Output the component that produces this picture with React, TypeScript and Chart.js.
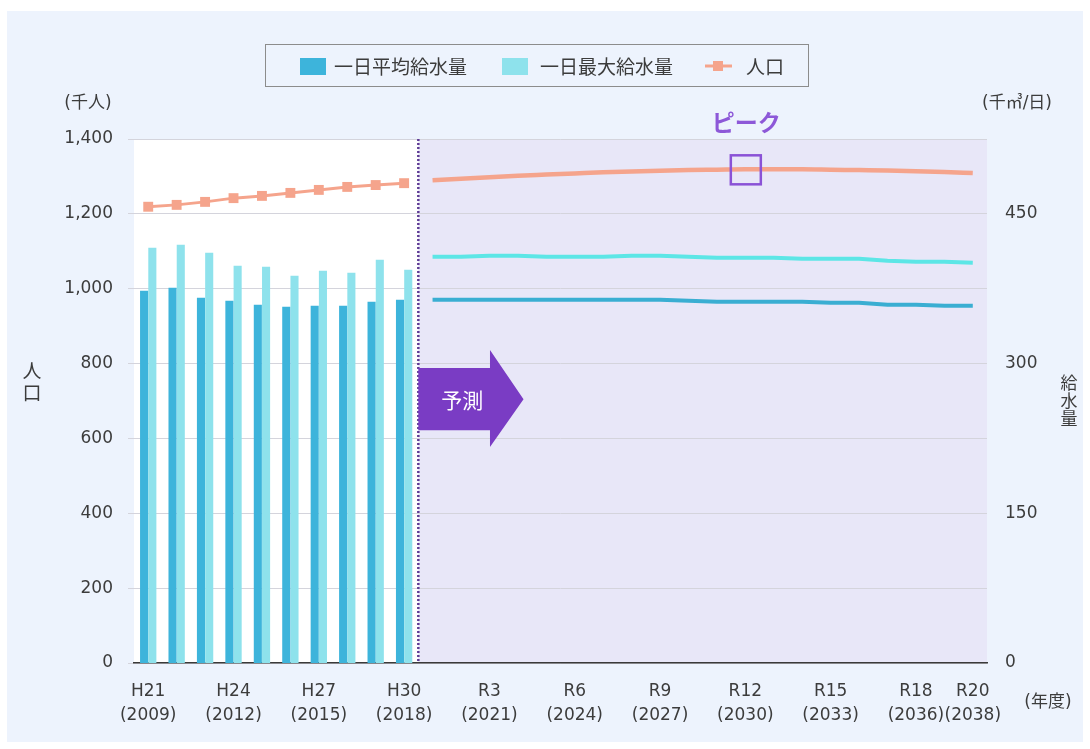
import React, { useEffect, useRef } from 'react';
import { Chart, registerables } from 'chart.js';

Chart.register(...registerables);

const years = ['2009','2010','2011','2012','2013','2014','2015','2016','2017','2018','2019','2020','2021','2022','2023','2024','2025','2026','2027','2028','2029','2030','2031','2032','2033','2034','2035','2036','2037','2038'];
const eraLabels = ['H21','H22','H23','H24','H25','H26','H27','H28','H29','H30','R1','R2','R3','R4','R5','R6','R7','R8','R9','R10','R11','R12','R13','R14','R15','R16','R17','R18','R19','R20'];
const shownTickIdx = [0, 3, 6, 9, 12, 15, 18, 21, 24, 27, 29];

const N = null;
// 一日平均給水量 (千㎥/日) – actual
const avgActual = [373, 376, 366, 363, 359, 357, 358, 358, 362, 364, N, N, N, N, N, N, N, N, N, N, N, N, N, N, N, N, N, N, N, N];
// 一日最大給水量 (千㎥/日) – actual
const maxActual = [416, 419, 411, 398, 397, 388, 393, 391, 404, 394, N, N, N, N, N, N, N, N, N, N, N, N, N, N, N, N, N, N, N, N];
// 人口 (千人) – actual
const popActual = [1219, 1224, 1232, 1242, 1248, 1256, 1264, 1272, 1277, 1282, N, N, N, N, N, N, N, N, N, N, N, N, N, N, N, N, N, N, N, N];
// forecasts
const popForecast = [N, N, N, N, N, N, N, N, N, N, 1290, 1294, 1298, 1302, 1305, 1308, 1311, 1313, 1315, 1317, 1318, 1319, 1319, 1319, 1318, 1317, 1316, 1314, 1312, 1309];
const maxForecast = [N, N, N, N, N, N, N, N, N, N, 407, 407, 408, 408, 407, 407, 407, 408, 408, 407, 406, 406, 406, 405, 405, 405, 403, 402, 402, 401];
const avgForecast = [N, N, N, N, N, N, N, N, N, N, 364, 364, 364, 364, 364, 364, 364, 364, 364, 363, 362, 362, 362, 362, 361, 361, 359, 359, 358, 358];
const peakIndex = 21;

const FONT = "'DejaVu Sans', 'Noto Sans CJK JP', sans-serif";
const JP = "'Noto Sans CJK JP', 'DejaVu Sans', sans-serif";
const TXT = '#3c3c3c';
const C_AVG = '#3db4db';
const C_MAX = '#8ee2ec';
const C_AVG_LINE = '#3aaed2';
const C_MAX_LINE = '#5ce6e6';
const C_POP = '#f5a48c';
const PURPLE = '#7a3cc4';

const decorPlugin = {
  id: 'decor',
  beforeDraw(chart: any) {
    const { ctx, chartArea: a, scales } = chart;
    ctx.save();
    ctx.fillStyle = '#ffffff';
    ctx.fillRect(0, 0, chart.width, chart.height);
    ctx.fillStyle = '#edf3fd';
    ctx.fillRect(7, 11, chart.width - 14, chart.height - 18);
    const bx = (scales.x.getPixelForValue(9) + scales.x.getPixelForValue(10)) / 2;
    ctx.fillStyle = '#ffffff';
    ctx.fillRect(a.left, a.top, bx - a.left, a.bottom - a.top);
    ctx.fillStyle = '#e8e7f8';
    ctx.fillRect(bx, a.top, a.right - bx, a.bottom - a.top);
    ctx.restore();
  },
  afterDraw(chart: any) {
    const { ctx, chartArea: a, scales } = chart;
    const x = scales.x, y = scales.y;
    const bx = (x.getPixelForValue(9) + x.getPixelForValue(10)) / 2;
    ctx.save();
    // dotted divider
    ctx.strokeStyle = '#5e3a94';
    ctx.lineWidth = 2.5;
    ctx.setLineDash([2, 2]);
    ctx.beginPath();
    ctx.moveTo(bx, a.top);
    ctx.lineTo(bx, a.bottom);
    ctx.stroke();
    ctx.setLineDash([]);

    // forecast arrow
    const hx = x.getPixelForValue(12.02);
    const tx = x.getPixelForValue(13.2);
    const bt = y.getPixelForValue(788), bb = y.getPixelForValue(622);
    const ht = y.getPixelForValue(836), hb = y.getPixelForValue(577);
    const cy = (bt + bb) / 2;
    ctx.fillStyle = PURPLE;
    ctx.beginPath();
    ctx.moveTo(bx, bt);
    ctx.lineTo(hx, bt);
    ctx.lineTo(hx, ht);
    ctx.lineTo(tx, cy);
    ctx.lineTo(hx, hb);
    ctx.lineTo(hx, bb);
    ctx.lineTo(bx, bb);
    ctx.closePath();
    ctx.fill();
    ctx.fillStyle = '#ffffff';
    ctx.font = `21px ${JP}`;
    ctx.textAlign = 'center';
    ctx.textBaseline = 'middle';
    ctx.fillText('予測', bx + 44, cy + 1);

    // peak marker
    const px = x.getPixelForValue(peakIndex);
    const py = y.getPixelForValue(popForecast[peakIndex] as number);
    ctx.strokeStyle = '#8a52d6';
    ctx.lineWidth = 2.5;
    ctx.strokeRect(px - 14.5, py - 14, 30, 29);
    ctx.fillStyle = '#8d58d8';
    ctx.font = `bold 23px ${JP}`;
    ctx.fillText('ピーク', px + 1, py - 47);

    // axis titles
    ctx.fillStyle = TXT;
    ctx.font = `17px ${FONT}`;
    ctx.fillText('(千人)', 88, 104);
    ctx.fillText('(千㎥/日)', 1017, 104);
    ctx.fillText('(年度)', 1048, 703);
    ctx.font = `19px ${JP}`;
    ctx.fillText('人', 32, 371);
    ctx.fillText('口', 32, 393);
    ctx.font = `17px ${JP}`;
    ctx.fillText('給', 1069, 383);
    ctx.fillText('水', 1069, 401);
    ctx.fillText('量', 1069, 419);

    // legend
    ctx.strokeStyle = '#8c8c8c';
    ctx.lineWidth = 1;
    ctx.strokeRect(265.5, 44.5, 543, 42);
    const ly = 66;
    ctx.fillStyle = C_AVG;
    ctx.fillRect(300, ly - 8, 26, 17);
    ctx.fillStyle = C_MAX;
    ctx.fillRect(502, ly - 8, 26, 17);
    ctx.strokeStyle = C_POP;
    ctx.lineWidth = 3;
    ctx.beginPath();
    ctx.moveTo(705, ly);
    ctx.lineTo(732, ly);
    ctx.stroke();
    ctx.fillStyle = C_POP;
    ctx.fillRect(713, ly - 5, 10, 10);
    ctx.fillStyle = TXT;
    ctx.font = `19px ${JP}`;
    ctx.textAlign = 'left';
    ctx.fillText('一日平均給水量', 334, ly + 1);
    ctx.fillText('一日最大給水量', 540, ly + 1);
    ctx.fillText('人口', 746, ly + 1);
    ctx.restore();
  },
};

export default function App() {
  const ref = useRef<HTMLCanvasElement>(null);
  useEffect(() => {
    if (!ref.current) return;
    const chart = new Chart(ref.current, {
      type: 'bar',
      data: {
        labels: years,
        datasets: [
          { type: 'bar', label: '一日平均給水量', data: avgActual, yAxisID: 'y1', backgroundColor: C_AVG, categoryPercentage: 0.58, barPercentage: 0.98, order: 3 },
          { type: 'bar', label: '一日最大給水量', data: maxActual, yAxisID: 'y1', backgroundColor: C_MAX, categoryPercentage: 0.58, barPercentage: 0.98, order: 3 },
          { type: 'line', label: '人口', data: popActual, yAxisID: 'y', borderColor: C_POP, backgroundColor: C_POP, borderWidth: 3, pointStyle: 'rect', pointRadius: 7, pointBorderWidth: 0, order: 1 },
          { type: 'line', label: '人口（推計）', data: popForecast, yAxisID: 'y', borderColor: C_POP, borderWidth: 4.5, pointRadius: 0, cubicInterpolationMode: 'monotone', order: 1 },
          { type: 'line', label: '一日最大給水量（推計）', data: maxForecast, yAxisID: 'y1', borderColor: C_MAX_LINE, borderWidth: 4, pointRadius: 0, order: 2 },
          { type: 'line', label: '一日平均給水量（推計）', data: avgForecast, yAxisID: 'y1', borderColor: C_AVG_LINE, borderWidth: 4, pointRadius: 0, order: 2 },
        ] as any,
      },
      options: {
        responsive: false,
        animation: false,
        layout: { padding: { top: 139, left: 0, right: 0, bottom: 0 } },
        plugins: { legend: { display: false }, tooltip: { enabled: false } },
        scales: {
          x: {
            type: 'category',
            grid: { display: false, drawTicks: false },
            border: { display: true, color: '#3a3a3a', width: 1.5 },
            ticks: {
              autoSkip: false,
              maxRotation: 0,
              minRotation: 0,
              padding: 17,
              color: TXT,
              font: { family: FONT, size: 17, lineHeight: 1.38 },
              callback: (_v: any, i: number) => (shownTickIdx.includes(i) ? [eraLabels[i], `(${years[i]})`] : ''),
            },
            afterFit: (s: any) => { s.height = 86; },
          },
          y: {
            position: 'left',
            min: 0,
            max: 1400,
            ticks: {
              stepSize: 200,
              padding: 15,
              color: TXT,
              font: { family: FONT, size: 17 },
              callback: (v: any) => Number(v).toLocaleString('en-US'),
            },
            grid: { color: '#d4d4dc', lineWidth: 1, tickLength: 6, drawTicks: true },
            border: { display: false },
            afterFit: (s: any) => { s.width = 134; },
          },
          y1: {
            position: 'right',
            min: 0,
            max: 525,
            ticks: {
              stepSize: 150,
              includeBounds: false,
              padding: 18,
              color: TXT,
              font: { family: FONT, size: 17 },
            },
            grid: { display: false, drawTicks: false },
            border: { display: false },
            afterFit: (s: any) => { s.width = 103; },
          },
        },
      } as any,
      plugins: [decorPlugin],
    });
    return () => chart.destroy();
  }, []);
  return (
    <div style={{ position: 'fixed', left: 0, top: 0, width: 1090, height: 749 }}>
      <canvas ref={ref} width={1090} height={749} style={{ width: 1090, height: 749 }} />
    </div>
  );
}
